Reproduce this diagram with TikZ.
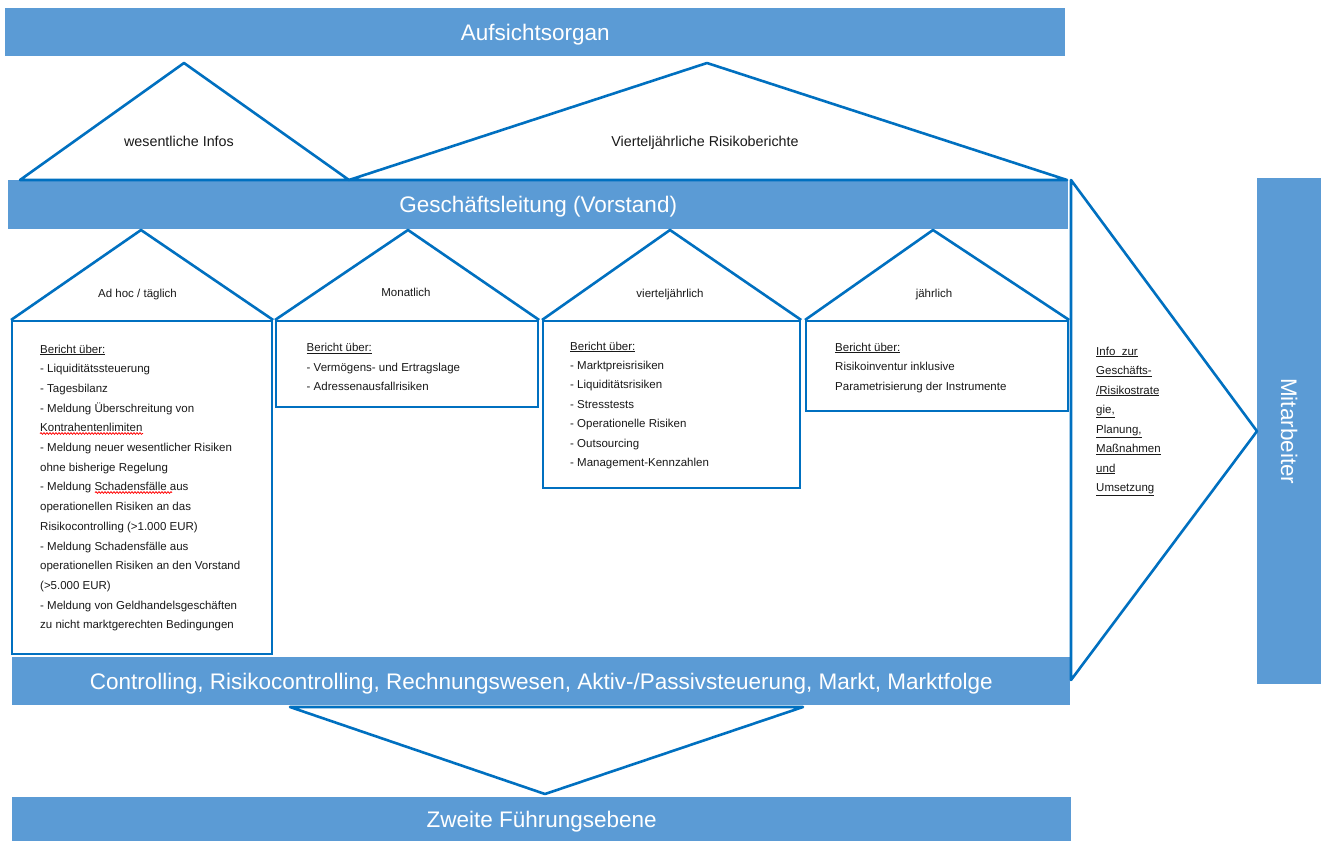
\documentclass[tikz,border=0pt]{standalone}
\usepackage{fontspec}
\setmainfont{Liberation Sans}
\usetikzlibrary{decorations.pathmorphing}
\definecolor{barblue}{HTML}{5B9BD5}
\definecolor{lineblue}{HTML}{0070C0}
\begin{document}
\begin{tikzpicture}[x=1pt,y=-1pt,
  bar/.style={fill=barblue, draw=none, anchor=north west, inner sep=0pt, text=white,
    font=\fontsize{22.5}{27}\selectfont, text height=16pt, text depth=0pt},
  tri/.style={draw=lineblue, line width=2.6pt, line join=round},
  hbox/.style={draw=lineblue, line width=2.2pt, fill=white, anchor=north west, inner sep=0pt},
  small/.style={font=\fontsize{11.5}{14}\selectfont, anchor=base west, inner sep=0pt, text=black!90},
  lab/.style={font=\fontsize{11.5}{14}\selectfont, anchor=base, inner sep=0pt, text=black!90},
  toplab/.style={font=\fontsize{14.3}{17}\selectfont, anchor=base, inner sep=0pt, text=black!90},
  wavy/.style={draw=red, line width=0.8pt, decorate, decoration={snake, amplitude=0.8pt, segment length=3pt}}
]
\fill[white] (0,0) rectangle (1321,841);
\path[use as bounding box] (0,0) rectangle (1321,841);

% bars
\node[bar, minimum width=1060pt, minimum height=48pt] (aufsicht) at (5,8) {Aufsichtsorgan};
\node[bar, minimum width=1060pt, minimum height=49pt] (gl) at (8,180) {Geschäftsleitung (Vorstand)};
\node[bar, minimum width=1058pt, minimum height=48pt] (ctrl) at (12,657) {Controlling, Risikocontrolling, Rechnungswesen, Aktiv-/Passivsteuerung, Markt, Marktfolge};
\node[bar, minimum width=1059pt, minimum height=44pt] (zweite) at (12,797) {Zweite Führungsebene};
\node[bar, minimum width=64pt, minimum height=506pt] (mitarb) at (1257,178) {};
\node[rotate=-90, text=white, font=\fontsize{22.5}{27}\selectfont, inner sep=0pt] (mitarbtxt) at (mitarb.center) {Mitarbeiter};

% top triangles
\coordinate (t1l) at (20,180);
\coordinate (t1a) at (184,63);
\coordinate (t1r) at (349,180);
\coordinate (t2a) at (707,63);
\coordinate (t2r) at (1067,180);
\draw[tri] (t1l) -- (t1a) -- (t1r) -- cycle;
\draw[tri] (t1r) -- (t2a) -- (t2r) -- cycle;
\node[toplab] (lab1) at (179,146) {wesentliche Infos};
\node[toplab] (lab2) at (705,146) {Vierteljährliche Risikoberichte};

% right arrow triangle
\coordinate (rA) at (1071,180);
\coordinate (rB) at (1071,680);
\draw[tri] (rA) -- (mitarb.west) -- (rB) -- cycle;

% bottom triangle
\coordinate (bl) at (290,707);
\coordinate (bapex) at (545,794);
\coordinate (br) at (803,707);
\draw[tri] (bl) -- (bapex) -- (br) -- cycle;

% houses
\node[hbox, minimum width=260pt, minimum height=333pt] (h1) at (11,320) {};
\coordinate (h1a) at (141,230);
\draw[tri] (h1.north west) -- (h1a) -- (h1.north east);
\node[lab] (h1lab) at (137.5,297) {Ad hoc / täglich};

\node[hbox, minimum width=262pt, minimum height=86pt] (h2) at (275,320) {};
\coordinate (h2a) at (408,230);
\draw[tri] (h2.north west) -- (h2a) -- (h2.north east);
\node[lab] (h2lab) at (406,296) {Monatlich};

\node[hbox, minimum width=257pt, minimum height=167pt] (h3) at (542,320) {};
\coordinate (h3a) at (670,230);
\draw[tri] (h3.north west) -- (h3a) -- (h3.north east);
\node[lab] (h3lab) at (670,297) {vierteljährlich};

\node[hbox, minimum width=262pt, minimum height=90pt] (h4) at (805,320) {};
\coordinate (h4a) at (933,230);
\draw[tri] (h4.north west) -- (h4a) -- (h4.north east);
\node[lab] (h4lab) at (934,297) {jährlich};

% house texts
\foreach \t [count=\i from 0] in {\underline{Bericht über:}, - Liquiditätssteuerung, - Tagesbilanz,
  - Meldung Überschreitung von, Kontrahentenlimiten, - Meldung neuer wesentlicher Risiken,
  ohne bisherige Regelung, - Meldung Schadensfälle aus, operationellen Risiken an das,
  {Risikocontrolling (>1.000 EUR)}, - Meldung Schadensfälle aus, operationellen Risiken an den Vorstand,
  {(>5.000 EUR)}, - Meldung von Geldhandelsgeschäften, zu nicht marktgerechten Bedingungen}
  \node[small] (h1t\i) at (40,353+\i*19.7) {\t};

\foreach \t [count=\i from 0] in {\underline{Bericht über:}, - Vermögens- und Ertragslage, - Adressenausfallrisiken}
  \node[small] (h2t\i) at (306.5,351.7+\i*19.5) {\t};

\foreach \t [count=\i from 0] in {\underline{Bericht über:}, - Marktpreisrisiken, - Liquiditätsrisiken,
  - Stresstests, - Operationelle Risiken, - Outsourcing, - Management-Kennzahlen}
  \node[small] (h3t\i) at (570,350+\i*19.45) {\t};

\foreach \t [count=\i from 0] in {\underline{Bericht über:}, Risikoinventur inklusive, Parametrisierung der Instrumente}
  \node[small] (h4t\i) at (835,351+\i*19.5) {\t};

% spell-check marks
\draw[wavy] (40,433.5) -- (143,433.5);
\draw[wavy] (95,492.5) -- (172,492.5);

% info text
\foreach \t [count=\i from 0] in {\underline{Info\ \ zur}, \underline{Geschäfts-}, \underline{/Risikostrate},
  \underline{gie,}, \underline{Planung,}, \underline{Maßnahmen}, \underline{und}, \underline{Umsetzung}}
  \node[small] (inf\i) at (1096,355+\i*19.5) {\t};
\end{tikzpicture}
\end{document}
